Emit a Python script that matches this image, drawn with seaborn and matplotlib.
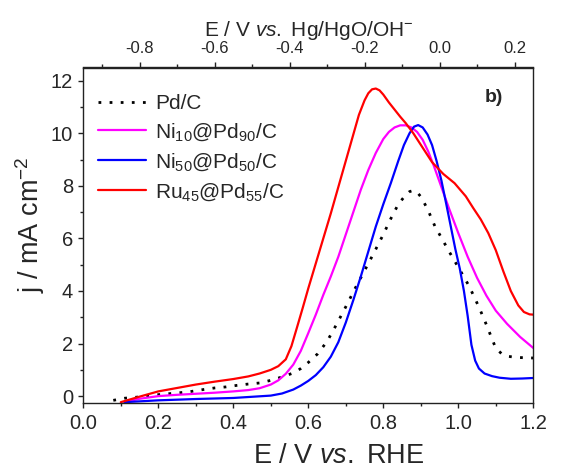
import matplotlib
matplotlib.use("Agg")
import matplotlib.pyplot as plt
from matplotlib.ticker import MultipleLocator, FixedLocator, FormatStrFormatter
import seaborn as sns
import pandas as pd

# ---- data ----
E_pd = [0.08, 0.11, 0.15, 0.18, 0.25, 0.28, 0.32, 0.35, 0.38, 0.41,
        0.44, 0.47, 0.50, 0.53, 0.56, 0.58, 0.60, 0.625, 0.65, 0.675,
        0.70, 0.725, 0.751, 0.775, 0.80, 0.82, 0.84, 0.858, 0.87, 0.88,
        0.89, 0.902, 0.92, 0.938, 0.956, 0.973, 0.991, 1.009, 1.027, 1.044,
        1.06, 1.076, 1.089, 1.10, 1.115, 1.13, 1.15, 1.175, 1.20]
j_pd = [-0.16, -0.08, -0.03, 0.03, 0.12, 0.16, 0.25, 0.31, 0.35, 0.41,
        0.46, 0.50, 0.60, 0.73, 0.88, 1.05, 1.28, 1.61, 2.08, 2.72,
        3.40, 4.10, 4.80, 5.45, 6.15, 6.75, 7.30, 7.62, 7.78, 7.82,
        7.76, 7.55, 7.05, 6.45, 6.00, 5.56, 5.12, 4.68, 4.23, 3.73,
        3.22, 2.68, 2.21, 1.82, 1.62, 1.52, 1.48, 1.46, 1.45]

E_ni10 = [0.11, 0.15, 0.20, 0.25, 0.30, 0.35, 0.40, 0.44, 0.47, 0.50,
          0.52, 0.54, 0.56, 0.58, 0.60, 0.62, 0.64, 0.66, 0.68, 0.70,
          0.72, 0.74, 0.76, 0.78, 0.80, 0.815, 0.83, 0.845, 0.86, 0.875,
          0.89, 0.905, 0.92, 0.935, 0.955, 0.975, 1.00, 1.025, 1.05, 1.075,
          1.10, 1.13, 1.165, 1.20]
j_ni10 = [-0.23, -0.10, 0.00, 0.05, 0.09, 0.13, 0.18, 0.23, 0.30, 0.44,
          0.60, 0.85, 1.20, 1.72, 2.40, 3.10, 3.85, 4.55, 5.30, 6.15,
          7.00, 7.85, 8.60, 9.25, 9.78, 10.05, 10.22, 10.30, 10.30, 10.22,
          10.05, 9.75, 9.30, 8.75, 7.95, 7.15, 6.20, 5.30, 4.50, 3.82,
          3.25, 2.75, 2.25, 1.83]

E_ni50 = [0.11, 0.20, 0.30, 0.40, 0.50, 0.53, 0.56, 0.58, 0.60, 0.62,
          0.64, 0.66, 0.68, 0.70, 0.72, 0.74, 0.76, 0.78, 0.80, 0.82,
          0.84, 0.855, 0.87, 0.882, 0.893, 0.905, 0.918, 0.93, 0.942, 0.955,
          0.968, 0.98, 0.992, 1.004, 1.015, 1.025, 1.035, 1.045, 1.055, 1.07,
          1.09, 1.11, 1.14, 1.17, 1.20]
j_ni50 = [-0.23, -0.16, -0.11, -0.07, 0.02, 0.10, 0.25, 0.40, 0.58, 0.80,
          1.10, 1.50, 2.05, 2.80, 3.65, 4.55, 5.50, 6.45, 7.30, 8.10,
          8.95, 9.55, 10.00, 10.25, 10.31, 10.22, 9.95, 9.55, 8.95, 8.20,
          7.30, 6.45, 5.60, 4.85, 4.00, 3.05, 1.95, 1.35, 1.05, 0.86,
          0.76, 0.70, 0.66, 0.67, 0.69]

E_ru45 = [0.10, 0.15, 0.20, 0.25, 0.30, 0.35, 0.40, 0.44, 0.47, 0.50,
          0.52, 0.54, 0.555, 0.57, 0.585, 0.60, 0.62, 0.64, 0.66, 0.68,
          0.70, 0.72, 0.735, 0.75, 0.76, 0.77, 0.78, 0.79, 0.80, 0.815,
          0.83, 0.845, 0.86, 0.88, 0.905, 0.93, 0.96, 0.99, 1.02, 1.04,
          1.06, 1.08, 1.10, 1.12, 1.14, 1.16, 1.175, 1.19, 1.20]
j_ru45 = [-0.23, -0.02, 0.18, 0.31, 0.44, 0.55, 0.65, 0.75, 0.86, 1.00,
          1.14, 1.40, 1.90, 2.62, 3.35, 4.10, 5.05, 6.00, 6.95, 7.95,
          8.95, 9.95, 10.70, 11.25, 11.52, 11.67, 11.70, 11.63, 11.47, 11.17,
          10.90, 10.63, 10.38, 10.00, 9.45, 8.90, 8.45, 8.10, 7.60, 7.15,
          6.72, 6.20, 5.55, 4.75, 4.00, 3.45, 3.20, 3.11, 3.10]

labels = ["Pd/C", "Ni$_{10}$@Pd$_{90}$/C", "Ni$_{50}$@Pd$_{50}$/C", "Ru$_{45}$@Pd$_{55}$/C"]
colors = ["black", "#FF00FF", "#0000FF", "#FF0000"]
top_ticks = [-0.8, -0.6, -0.4, -0.2, 0.0, 0.2]
top_minor = [-0.9, -0.7, -0.5, -0.3, -0.1, 0.1]
HG_OFFSET = 0.95  # E(RHE) - E(Hg/HgO)

# ---- style ----
sns.set_theme(style="ticks")
plt.rcParams["font.family"] = ["Liberation Sans", "DejaVu Sans"]
plt.rcParams["mathtext.fontset"] = "custom"
plt.rcParams["mathtext.rm"] = "Liberation Sans"
plt.rcParams["mathtext.it"] = "Liberation Sans:italic"
plt.rcParams["mathtext.bf"] = "Liberation Sans:bold"
plt.rcParams["mathtext.default"] = "regular"

fig = plt.figure(figsize=(5.85, 4.70), dpi=100)
ax = fig.add_axes([83.3 / 585, 1 - 402.7 / 470, 450 / 585, (402.7 - 67.5) / 470])

series = [(E_pd, j_pd), (E_ni10, j_ni10), (E_ni50, j_ni50), (E_ru45, j_ru45)]
for (E, j), lab, col in zip(series, labels, colors):
    df = pd.DataFrame({"E": E, "j": j})
    if lab == "Pd/C":
        sns.lineplot(data=df, x="E", y="j", ax=ax, sort=False, estimator=None, color=col,
                     linewidth=2.0, linestyle=(0, (1, 3)), label=lab)
    else:
        sns.lineplot(data=df, x="E", y="j", ax=ax, sort=False, estimator=None, color=col,
                     linewidth=1.6, label=lab, solid_joinstyle="round")

ax.set_xlim(0.0, 1.2)
ax.set_ylim(-0.25, 12.5)
ax.xaxis.set_major_locator(MultipleLocator(0.2))
ax.xaxis.set_minor_locator(MultipleLocator(0.1))
ax.yaxis.set_major_locator(MultipleLocator(2))
ax.yaxis.set_minor_locator(MultipleLocator(1))
ax.xaxis.set_major_formatter(FormatStrFormatter("%.1f"))

for s in ax.spines.values():
    s.set_linewidth(1.0)
    s.set_color("#222222")
ax.tick_params(which="both", direction="out", top=False, right=False, color="#222222")
ax.tick_params(which="major", length=3.5, width=1.0, labelsize=14.5, pad=4.5)
ax.tick_params(which="minor", length=2.0, width=1.0)
ax.tick_params(axis="y", pad=4)

ax.set_xlabel(r"E / V $\mathit{vs.}$ RHE", fontsize=19.5)
ax.xaxis.set_label_coords(0.568, -0.12)
ax.set_ylabel(r"j / mA cm$^{-2}$", fontsize=19.5)
ax.yaxis.set_label_coords(-0.08, 0.53)

sec = ax.secondary_xaxis("top", functions=(lambda x: x - HG_OFFSET, lambda x: x + HG_OFFSET))
sec.xaxis.set_major_locator(FixedLocator(top_ticks))
sec.xaxis.set_minor_locator(FixedLocator(top_minor))
sec.xaxis.set_major_formatter(FormatStrFormatter("%.1f"))
sec.tick_params(which="both", direction="out", color="#222222")
sec.tick_params(which="major", length=3.5, width=1.0, labelsize=12, pad=4.5)
sec.tick_params(which="minor", length=2.0, width=1.0)
sec.spines["top"].set_linewidth(1.0)
sec.spines["top"].set_color("#222222")
sec.set_xlabel(r"E / V $\mathit{vs.}$ Hg/HgO/OH$^{-}$", fontsize=15, labelpad=4)

leg = ax.legend(loc="upper left", bbox_to_anchor=(0.0, 0.965), frameon=False, fontsize=15,
                handlelength=2.3, handletextpad=0.45, labelspacing=0.4,
                borderaxespad=0.3, borderpad=0.4)

ax.text(1.095, 11.37, "b)", fontsize=14, fontweight="bold", ha="center", va="center")

fig.savefig("out.png", dpi=100)
